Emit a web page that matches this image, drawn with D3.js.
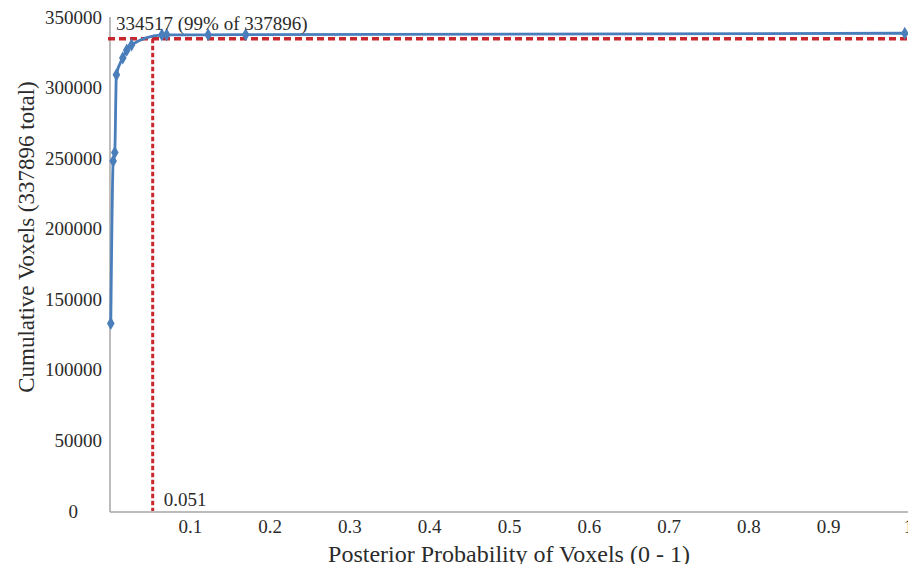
<!DOCTYPE html>
<html>
<head>
<meta charset="utf-8">
<style>
  html, body { margin: 0; padding: 0; background: #fff; }
  svg { display: block; }
  .tick text { font-family: "Liberation Serif", "Times New Roman", serif; font-size: 19px; fill: #2b2b2b; }
  .axis path { stroke: #a6a6a6; stroke-width: 1.5; }
  .title { font-family: "Liberation Serif", "Times New Roman", serif; fill: #2b2b2b; }
</style>
<script src="https://cdn.jsdelivr.net/npm/d3@7/dist/d3.min.js"></script>
</head>
<body>
<div id="chart"></div>
<script>
// posterior probability (x) and cumulative voxel count (y)
var probs = [0.001, 0.004, 0.006, 0.008, 0.016, 0.021, 0.027, 0.065, 0.071, 0.123, 0.17, 0.996];
var voxels = [132900, 248000, 254000, 309000, 321000, 326500, 330200, 337300, 337400, 337400, 337500, 338500];
var xTicks = [0.1, 0.2, 0.3, 0.4, 0.5, 0.6, 0.7, 0.8, 0.9, 1];
var yTicks = [0, 50000, 100000, 150000, 200000, 250000, 300000, 350000];
var cutoffProb = 0.051;
var cutoffVoxels = 334517;
var totalVoxels = 337896;

var width = 908, height = 564;
var plotLeft = 110, plotRight = 908, plotTop = 17, plotBottom = 511;

var svg = d3.select("#chart").append("svg")
    .attr("width", width)
    .attr("height", height);

var x = d3.scaleLinear().domain([0, 1]).range([plotLeft, plotRight]);
var y = d3.scaleLinear().domain([0, 350000]).range([plotBottom, plotTop]);

// axes
var xAxis = svg.append("g")
    .attr("class", "axis")
    .attr("transform", "translate(0," + (plotBottom + 1) + ")")
    .call(d3.axisBottom(x).tickValues(xTicks).tickSize(0).tickPadding(8)
        .tickFormat(function(d) { return d === 1 ? "1" : d3.format(".1f")(d); }));

var yAxis = svg.append("g")
    .attr("class", "axis")
    .attr("transform", "translate(" + plotLeft + ",0)")
    .call(d3.axisLeft(y).tickValues(yTicks).tickSize(0).tickPadding(8).tickFormat(d3.format("d")));

// the zero label sits further left in the original
yAxis.selectAll(".tick text").filter(function(d) { return d === 0; }).attr("dx", -24);

xAxis.select(".domain").attr("d", "M" + plotLeft + ",0H" + plotRight);
yAxis.select(".domain").attr("d", "M0," + plotTop + "V" + (plotBottom + 1));

// red cut-off lines
svg.append("line")
    .attr("x1", plotLeft - 2).attr("x2", plotRight)
    .attr("y1", y(cutoffVoxels)).attr("y2", y(cutoffVoxels))
    .attr("stroke", "#c8272d").attr("stroke-width", 3.5)
    .attr("stroke-dasharray", "7,4");

svg.append("line")
    .attr("x1", x(cutoffProb) + 2).attr("x2", x(cutoffProb) + 2)
    .attr("y1", y(cutoffVoxels)).attr("y2", plotBottom)
    .attr("stroke", "#c8272d").attr("stroke-width", 3)
    .attr("stroke-dasharray", "4.5,2.5");

// cumulative curve
var pts = probs.map(function(p, i) { return [p, voxels[i]]; });

var line = d3.line()
    .curve(d3.curveMonotoneX)
    .x(function(d) { return x(d[0]); })
    .y(function(d) { return y(d[1]); });

svg.append("path")
    .datum(pts)
    .attr("d", line)
    .attr("fill", "none")
    .attr("stroke", "#4a7ebb")
    .attr("stroke-width", 2.8);

svg.selectAll("path.marker")
    .data(pts)
    .enter().append("path")
    .attr("class", "marker")
    .attr("d", d3.symbol().type(d3.symbolDiamond).size(50))
    .attr("transform", function(d) { return "translate(" + x(d[0]) + "," + y(d[1]) + ")"; })
    .attr("fill", "#4a7ebb");

// annotations
svg.append("text")
    .attr("class", "title")
    .attr("x", plotLeft + 6).attr("y", 30)
    .style("font-size", "19px")
    .text(d3.format("d")(cutoffVoxels) + " (99% of " + totalVoxels + ")");

svg.append("text")
    .attr("class", "title")
    .attr("x", x(cutoffProb) + 13).attr("y", 506)
    .style("font-size", "19px")
    .text(cutoffProb);

// axis titles
svg.append("text")
    .attr("class", "title")
    .attr("x", 509).attr("y", 562)
    .attr("text-anchor", "middle")
    .style("font-size", "24px")
    .text("Posterior Probability of Voxels (0 - 1)");

svg.append("text")
    .attr("class", "title")
    .attr("transform", "translate(34,237) rotate(-90)")
    .attr("text-anchor", "middle")
    .style("font-size", "23px")
    .text("Cumulative Voxels (337896 total)");
</script>
</body>
</html>
